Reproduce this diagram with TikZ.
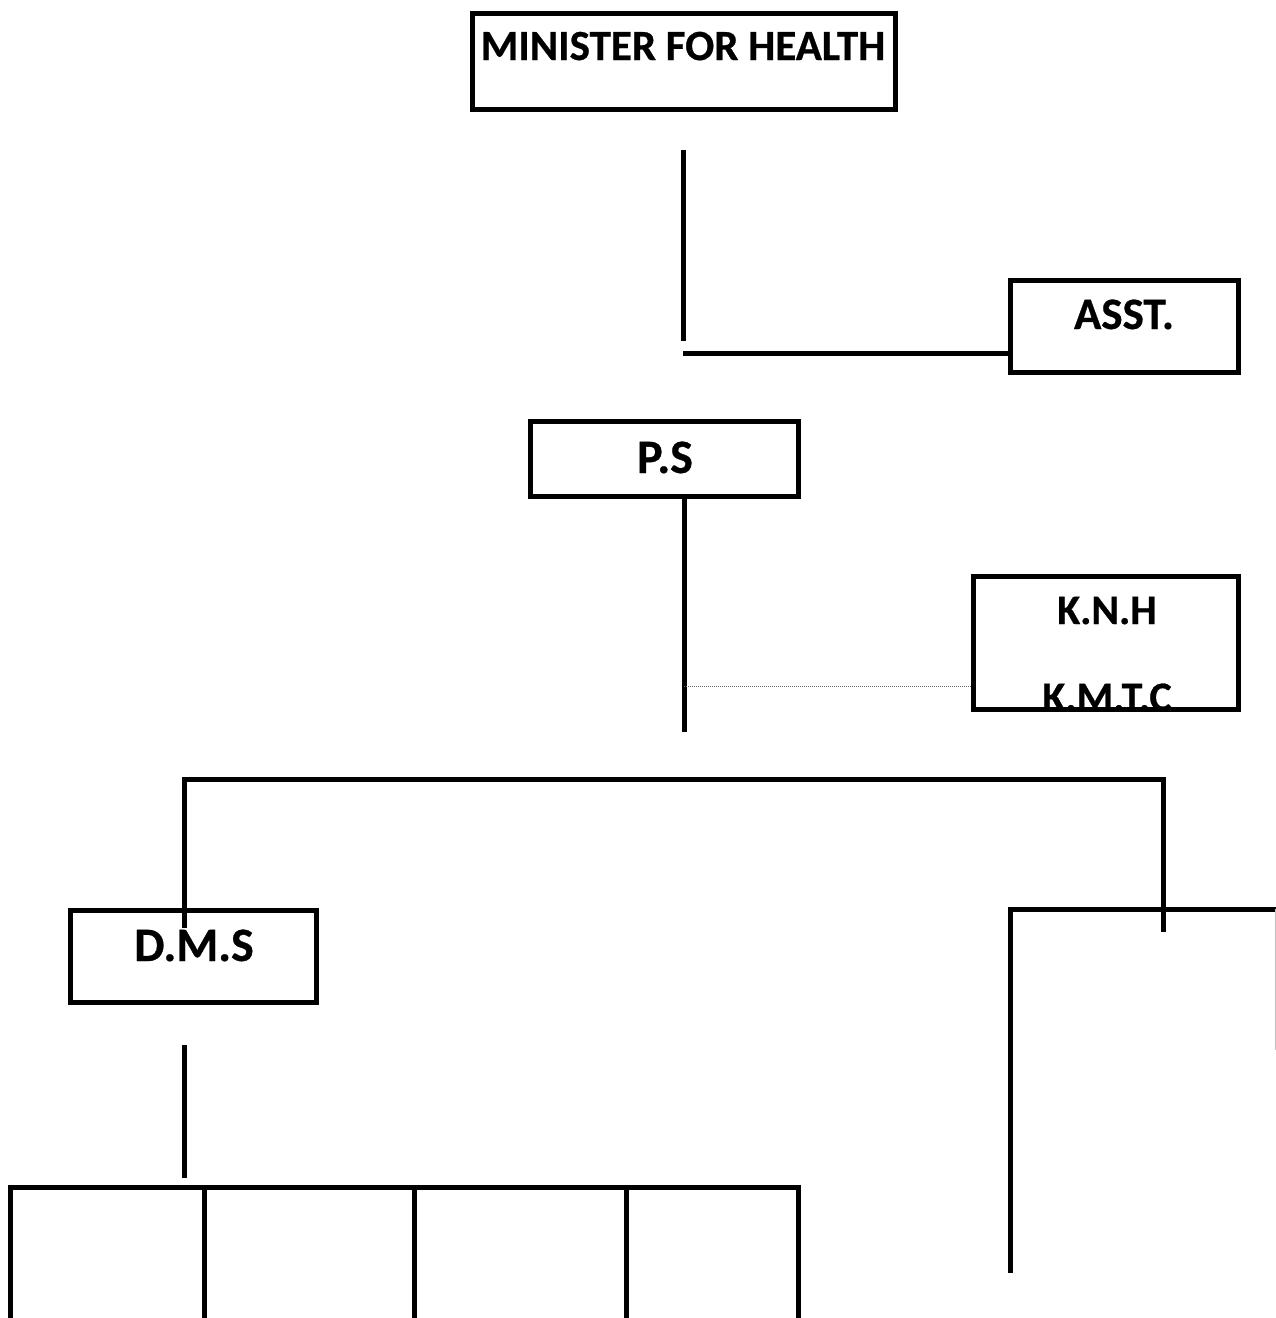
\documentclass[tikz,border=0pt]{standalone}
\usepackage{fontspec}
\setmainfont{Carlito}
\newfontfamily\heavy{Carlito Bold}[FakeBold=0.6]
\begin{document}
\begin{tikzpicture}[x=1pt,y=-1pt,
  box/.style={draw, line width=5pt, inner sep=0pt, fill=none},
  lab/.style={font=\fontsize{#1}{#1}\heavy, inner sep=0pt, anchor=base},
  lab/.default=44,
  link/.style={line width=5pt},
  thin link/.style={line width=1pt, densely dotted, black!60}]
\useasboundingbox (0,0) rectangle (1276,1318);

% labels
\node[lab=43] (minister-t) at (683,60) {MINISTER FOR HEALTH};
\node[lab=45] (asst-t) at (1124,329) {ASST.};
\node[lab=48] (ps-t) at (665,473) {P.S};
\node[lab=42] (knh-t) at (1107,624) {K.N.H};
\node[lab=42] (kmtc-t) at (1107,711) {K.M.T.C};
\node[lab=48] (dms-t) at (194,961) {D.M.S};

% boxes
\node[box, minimum width=423pt, minimum height=96pt] (minister) at (684,61) {};
\node[box, minimum width=228pt, minimum height=92pt] (asst) at (1124.5,326.5) {};
\node[box, minimum width=268pt, minimum height=75pt] (ps) at (664.5,459) {};
\node[box, minimum width=265pt, minimum height=133pt] (knh) at (1106,643) {};
\node[box, minimum width=246pt, minimum height=92pt] (dms) at (193.5,956.5) {};

% free ends of the connectors
\coordinate (m-top) at (683,150);
\coordinate (m-bot) at (683,341);
\coordinate (a-start) at (683,353);
\coordinate (ps-end) at (684,732);
\coordinate (k-start) at (684,686);
\coordinate (bar-l) at (184,779);
\coordinate (bar-r) at (1163,779);
\coordinate (dms-in) at (184,928);
\coordinate (r-end) at (1163,932);
\coordinate (fr-bl) at (1010,1273);
\coordinate (fr-tl) at (1010,909);
\coordinate (fr-tr) at (1280,909);
\coordinate (edge-t) at (1275,909);
\coordinate (edge-b) at (1275,1050);
\coordinate (d-top) at (184,1045);
\coordinate (d-bot) at (184,1178);
\coordinate (row-l) at (10,1187);
\coordinate (row-r) at (798,1187);

% connectors
\draw[link] (m-top) -- (m-bot);
\draw[link] (a-start) -- (a-start -| asst.west);
\draw[link] (ps.south -| ps-end) -- (ps-end);
\draw[thin link] (k-start) -- (k-start -| knh.west);
\draw[link, line join=miter] (dms-in) -- (bar-l) -- (bar-r) -- (r-end);
\draw[link, line join=miter] (fr-bl) -- (fr-tl) -- (fr-tr);
\draw[line width=1pt, black!25] (edge-t) -- (edge-b);
\draw[link] (d-top) -- (d-bot);
\draw[link, line join=miter] (row-l |- 0,1318) -- (row-l) -- (row-r) -- (row-r |- 0,1318);
\foreach \xx in {204,414,626}
  \draw[link] (\xx,1187) -- (\xx,1318);
\end{tikzpicture}
\end{document}
